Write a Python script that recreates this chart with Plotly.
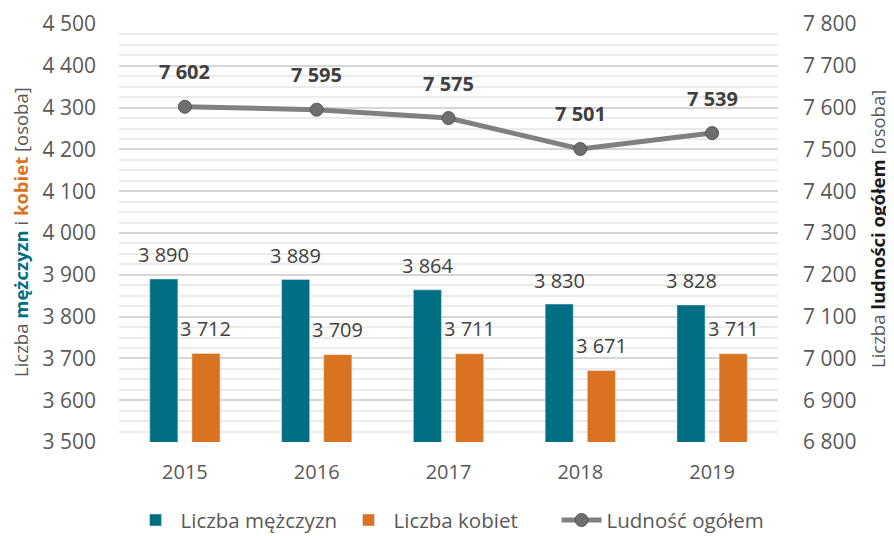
import plotly.graph_objects as go

years = ["2015", "2016", "2017", "2018", "2019"]
men = [3890, 3889, 3864, 3830, 3828]
women = [3712, 3709, 3711, 3671, 3711]
total = [7602, 7595, 7575, 7501, 7539]

TEAL = "#006f84"
ORANGE = "#d9731f"
LINE = "#808080"
TXT = "#595959"
FONT = "Open Sans"

def fmt(v):
    return f"{v:,}".replace(",", " ")

fig = go.Figure()
fig.add_trace(go.Bar(x=years, y=men, name="Liczba mężczyzn", marker=dict(color=TEAL), yaxis="y"))
fig.add_trace(go.Bar(x=years, y=women, name="Liczba kobiet", marker=dict(color=ORANGE), yaxis="y"))
fig.add_trace(go.Scatter(x=years, y=total, name="Ludność ogółem", yaxis="y2", mode="lines+markers",
                         line=dict(color=LINE, width=5),
                         marker=dict(color="#6e6e6e", size=13, line=dict(color="#555555", width=1))))

ann = []
for i, y in enumerate(years):
    ann.append(dict(x=i, y=men[i], xref="x", yref="y", text=fmt(men[i]), showarrow=False,
                    xshift=-21, yshift=24, font=dict(size=20, color="#404040", family=FONT)))
    ann.append(dict(x=i, y=women[i], xref="x", yref="y", text=fmt(women[i]), showarrow=False,
                    xshift=21, yshift=25, font=dict(size=20, color="#404040", family=FONT)))
    ann.append(dict(x=i, y=total[i], xref="x", yref="y2", text="<b>" + fmt(total[i]) + "</b>", showarrow=False,
                    yshift=35, font=dict(size=20, color="#404040", family=FONT)))

left_title = ("Liczba <b><span style='color:%s'>mężczyzn</span></b> i "
              "<b><span style='color:%s'>kobiet</span></b> [osoba]") % (TEAL, ORANGE)
right_title = "Liczba <b><span style='color:#1a1a1a'>ludności ogółem</span></b> [osoba]"

ann.append(dict(x=0, y=0.5, xref="paper", yref="paper", text=left_title, textangle=-90,
                showarrow=False, xanchor="center", yanchor="middle", xshift=-99, yshift=1,
                font=dict(size=18.5, color=TXT, family=FONT)))
ann.append(dict(x=1, y=0.5, xref="paper", yref="paper", text=right_title, textangle=-90,
                showarrow=False, xanchor="center", yanchor="middle", xshift=99, yshift=4,
                font=dict(size=18.5, color=TXT, family=FONT)))

fig.update_layout(
    width=886, height=528,
    margin=dict(l=111, r=116, t=16, b=94),
    paper_bgcolor="white", plot_bgcolor="white",
    separators=", ",
    font=dict(family=FONT, color=TXT, size=20),
    barmode="group", bargap=0.36, bargroupgap=0.333,
    showlegend=True,
    legend=dict(orientation="h", x=0.4989, xanchor="center", xref="container",
                y=0.03, yanchor="middle", yref="container",
                font=dict(size=20.5, color=TXT, family=FONT), traceorder="normal",
                itemwidth=40, entrywidth=158, entrywidthmode="pixels"),
    xaxis=dict(type="category", showgrid=False, showline=False, ticks="", automargin=False,
               tickfont=dict(size=20, color=TXT), ticklabelstandoff=16),
    yaxis=dict(range=[3500, 4500], dtick=100, tickformat=",d", showgrid=True, gridcolor="#d6d6d6",
               gridwidth=1.5,
               minor=dict(dtick=25, showgrid=True, gridcolor="#ebebeb"),
               zeroline=False, showline=False, ticklabelstandoff=22, automargin=False,
               tickfont=dict(size=21, color=TXT)),
    yaxis2=dict(range=[6800, 7800], dtick=100, tickformat=",d", overlaying="y", side="right",
                showgrid=False, zeroline=False, showline=False, ticklabelstandoff=24, automargin=False,
                tickfont=dict(size=21, color=TXT)),
    annotations=ann,
)

fig.write_html("out.html")
